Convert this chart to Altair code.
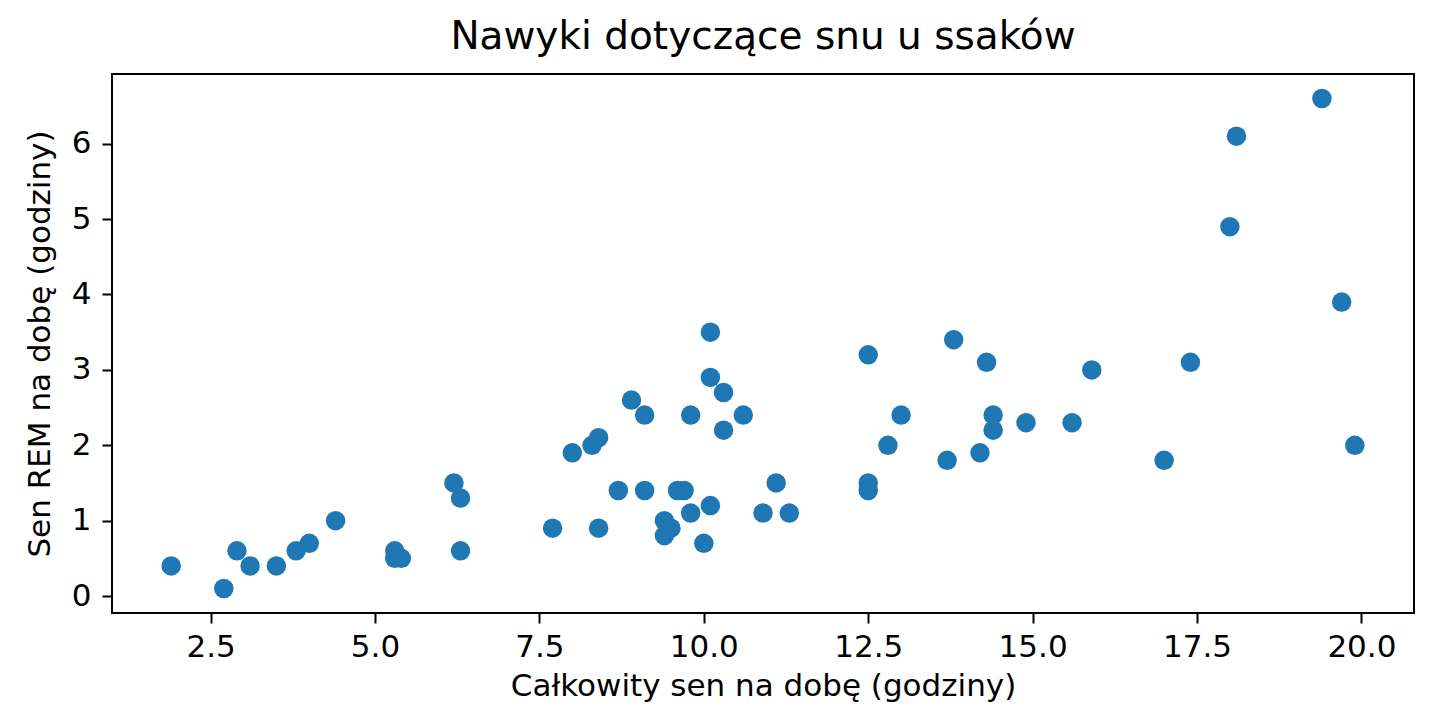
import altair as alt
import pandas as pd

# msleep: total sleep vs REM sleep (only animals with REM recorded)
sleep_total = [17.0, 14.4, 14.9, 4.0, 14.4, 8.7, 10.1, 5.3, 9.4, 10.0,
               12.5, 10.3, 8.3, 9.1, 17.4, 5.3, 18.0, 19.7, 2.9, 3.1,
               10.1, 10.9, 12.5, 9.8, 1.9, 2.7, 6.2, 6.3, 8.0, 9.5,
               19.4, 10.1, 14.2, 14.3, 12.5, 19.9, 7.7, 8.4, 3.8, 9.7,
               9.4, 10.3, 13.7, 3.5, 11.1, 18.1, 5.4, 13.0, 9.6, 8.4,
               11.3, 10.6, 13.8, 15.9, 12.8, 9.1, 4.4, 15.6, 8.9, 6.3,
               9.8]
sleep_rem = [1.8, 2.4, 2.3, 0.7, 2.2, 1.4, 2.9, 0.6, 0.8, 0.7,
             1.5, 2.2, 2.0, 1.4, 3.1, 0.5, 4.9, 3.9, 0.6, 0.4,
             3.5, 1.1, 3.2, 1.1, 0.4, 0.1, 1.5, 0.6, 1.9, 0.9,
             6.6, 1.2, 1.9, 3.1, 1.4, 2.0, 0.9, 0.9, 0.6, 1.4,
             1.0, 2.7, 1.8, 0.4, 1.5, 6.1, 0.5, 2.4, 1.4, 2.1,
             1.1, 2.4, 3.4, 3.0, 2.0, 2.4, 1.0, 2.3, 2.6, 1.3,
             2.4]

df = pd.DataFrame({'total': sleep_total, 'rem': sleep_rem})

font = 'DejaVu Sans'

points = alt.Chart(df).mark_circle(size=380, color='#1f77b4', opacity=1).encode(
    x=alt.X('total:Q',
            scale=alt.Scale(domain=[1.0, 20.8], nice=False, zero=False),
            axis=alt.Axis(values=[2.5, 5.0, 7.5, 10.0, 12.5, 15.0, 17.5, 20.0],
                          format='.1f', title='Całkowity sen na dobę (godziny)',
                          titlePadding=9)),
    y=alt.Y('rem:Q',
            scale=alt.Scale(domain=[-0.225, 6.925], nice=False, zero=False),
            axis=alt.Axis(values=[0, 1, 2, 3, 4, 5, 6], format='d',
                          title='Sen REM na dobę (godziny)', titlePadding=15,
                          labelPadding=11))
)

chart = points.properties(
    width=1302,
    height=539,
    autosize=alt.AutoSizeParams(type='none'),
    padding={'left': 104, 'top': 66, 'right': 27, 'bottom': 99},
    title=alt.TitleParams(text='Nawyki dotyczące snu u ssaków', font=font,
                          fontSize=39, fontWeight='normal', color='black',
                          anchor='middle', offset=17)
).configure_view(
    stroke='black', strokeWidth=2
).configure_axis(
    grid=False,
    domain=False,
    tickColor='black', tickWidth=2, tickSize=10,
    labelFont=font, labelFontSize=31, labelColor='black', labelPadding=9,
    titleFont=font, titleFontSize=31, titleColor='black', titleFontWeight='normal'
)

chart.save('out.html', embed_options={'renderer': 'svg', 'actions': False})
